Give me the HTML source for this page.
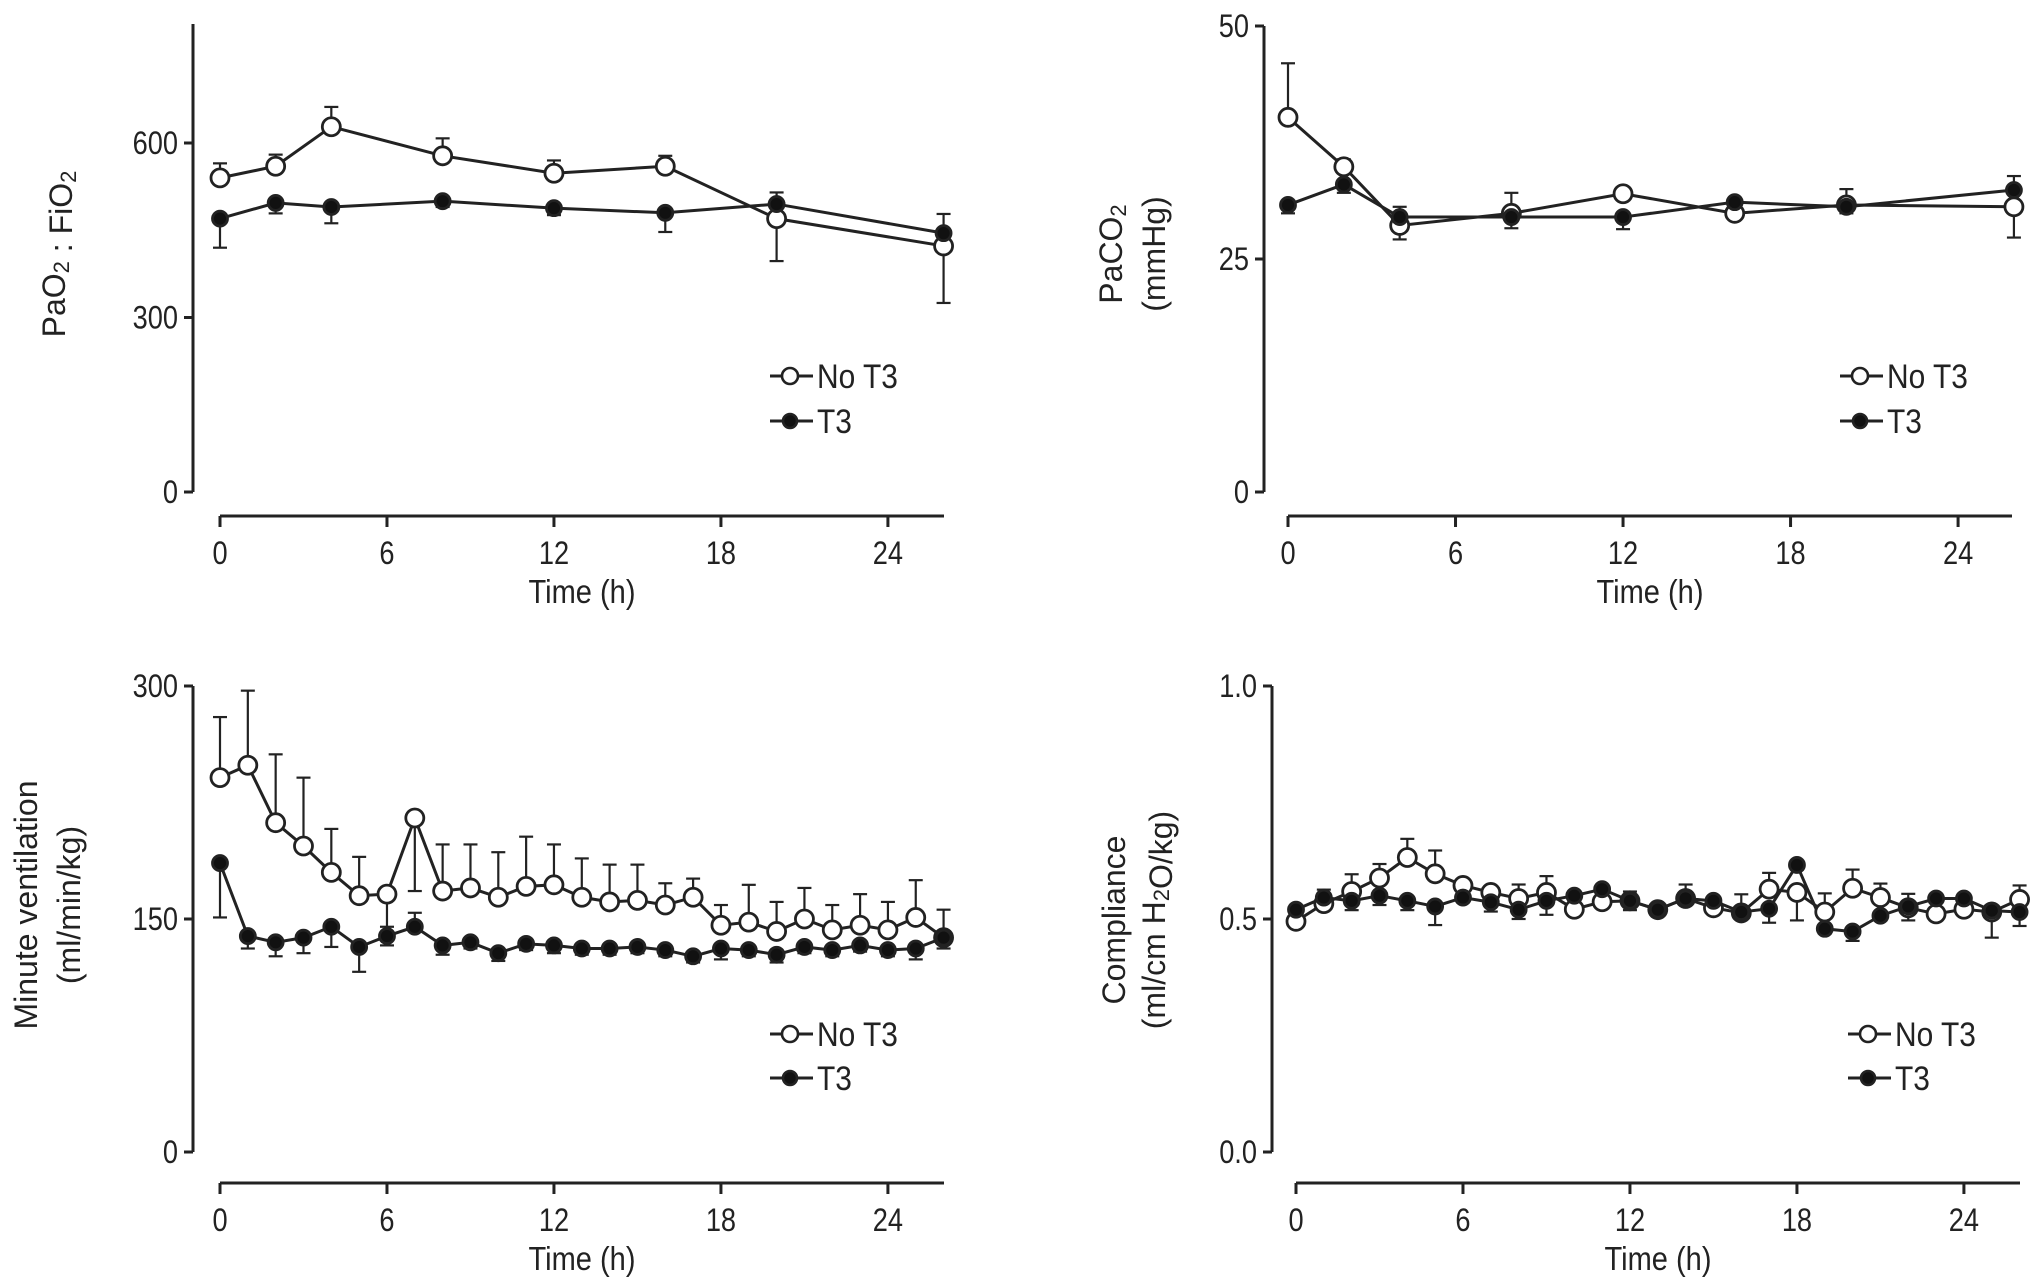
<!DOCTYPE html>
<html><head><meta charset="utf-8"><style>
html,body{margin:0;padding:0;background:#fff;}
svg{display:block;font-family:"Liberation Sans",Arial,sans-serif;}
</style></head><body>
<svg id="fig" width="2032" height="1286" viewBox="0 0 2032 1286" xmlns="http://www.w3.org/2000/svg"></svg>
<script>
// ---- Panel A: PaO2:FiO2 ----
const hoursA = [0,2,4,8,12,16,20,26];
const pfNoT3 = [540,560,628,578,548,560,470,423];
const pfNoT3Err = [25,20,34,30,22,18,73,98];
const pfNoT3Dir = [1,1,1,1,1,1,-1,-1];
const pfT3 = [470,497,490,500,488,480,495,445];
const pfT3Err = [50,18,28,10,12,33,20,33];
const pfT3Dir = [-1,-1,-1,-1,-1,-1,1,1];
const pfTicks = [0,300,600];
// ---- Panel B: PaCO2 ----
const co2NoT3 = [40.2,34.9,28.6,29.9,32.0,29.9,30.8,30.6];
const co2NoT3Err = [5.8,0.8,1.5,2.2,0.5,0.5,1.7,3.3];
const co2NoT3Dir = [1,1,-1,1,1,1,1,-1];
const co2T3 = [30.8,33.0,29.5,29.5,29.5,31.1,30.6,32.4];
const co2T3Err = [0.9,0.9,1.1,1.2,1.3,0.4,0.7,1.5];
const co2T3Dir = [-1,-1,1,-1,-1,1,-1,1];
const co2Ticks = [0,25,50];
// ---- Panel C: Minute ventilation ----
const hoursC = [0,1,2,3,4,5,6,7,8,9,10,11,12,13,14,15,16,17,18,19,20,21,22,23,24,25,26];
const mvNoT3 = [241,249,212,197,180,165,166,215,168,170,164,171,172,164,161,162,159,164,146,148,142,150,143,146,143,151,138];
const mvNoT3Err = [39,48,44,44,28,25,21,47,30,28,29,32,26,25,24,23,14,12,13,24,19,20,16,20,18,24,18];
const mvNoT3Dir = [1,1,1,1,1,1,-1,-1,1,1,1,1,1,1,1,1,1,1,1,1,1,1,1,1,1,1,1];
const mvT3 = [186,139,135,138,145,132,139,145,133,135,128,134,133,131,131,132,130,126,131,130,127,132,130,133,130,131,138];
const mvT3Err = [35,8,9,10,13,16,6,9,6,4,5,4,5,4,4,4,4,4,7,4,5,4,4,4,4,7,7];
const mvT3Dir = [-1,-1,-1,-1,-1,-1,-1,1,-1,-1,-1,-1,-1,-1,-1,-1,-1,-1,-1,-1,-1,-1,-1,-1,-1,-1,-1];
const mvTicks = [0,150,300];
// ---- Panel D: Compliance ----
const cNoT3 = [0.495,0.533,0.559,0.588,0.632,0.597,0.572,0.557,0.544,0.557,0.521,0.537,0.539,0.520,0.544,0.524,0.513,0.564,0.557,0.515,0.566,0.546,0.524,0.511,0.521,0.515,0.542];
const cNoT3Err = [0.01,0.03,0.037,0.03,0.04,0.05,0.01,0.01,0.03,0.035,0.01,0.01,0.02,0.01,0.03,0.01,0.04,0.035,0.06,0.04,0.04,0.03,0.03,0.04,0.01,0.055,0.03];
const cNoT3Dir = [1,1,1,1,1,1,1,1,1,1,1,1,1,1,1,1,1,1,-1,1,1,1,1,1,1,-1,1];
const cT3 = [0.520,0.546,0.539,0.550,0.539,0.527,0.546,0.536,0.520,0.539,0.550,0.564,0.539,0.520,0.544,0.539,0.515,0.522,0.616,0.479,0.473,0.507,0.527,0.544,0.544,0.518,0.515];
const cT3Err = [0.01,0.02,0.02,0.02,0.02,0.04,0.01,0.02,0.02,0.03,0.01,0.01,0.02,0.01,0.01,0.02,0.01,0.03,0.01,0.01,0.02,0.01,0.03,0.03,0.03,0.01,0.03];
const cT3Dir = [-1,-1,-1,-1,-1,-1,-1,-1,-1,-1,-1,-1,-1,-1,-1,-1,-1,-1,-1,-1,-1,-1,-1,-1,-1,-1,-1];
const cTicks = [0,0.5,1];
const cTickLabels = ["0.0","0.5","1.0"];
const xTicks = [0,6,12,18,24];

const NS="http://www.w3.org/2000/svg";
const svg=document.getElementById('fig');
function mk(tag,attrs,parent){const e=document.createElementNS(NS,tag);for(const k in attrs)e.setAttribute(k,attrs[k]);(parent||svg).appendChild(e);return e;}

function panel(cfg){
  const g=mk('g',{});
  
  
  const yS=v=>cfg.y0-(v-cfg.vMin)*(cfg.y0-cfg.yMaxPx)/(cfg.vMax-cfg.vMin);
  const xS=h=>cfg.x0+h*cfg.perH;
  const ya=mk('line',{x1:cfg.yAxisX,y1:cfg.yTop,x2:cfg.yAxisX,y2:cfg.y0,stroke:'#222','stroke-width':3},g);
  
  
  cfg.yTicks.forEach((t,i)=>{
    const y=yS(t);
    mk('line',{x1:cfg.yAxisX-9,y1:y,x2:cfg.yAxisX,y2:y,stroke:'#222','stroke-width':3},g);
    const tx=mk('text',{transform:`translate(${cfg.yAxisX-15},${y+11}) scale(0.85,1)`,'text-anchor':'end','font-size':32,fill:'#222'},g);
    
    
    tx.textContent=cfg.yLabels?cfg.yLabels[i]:String(t);
  });
  const xa=mk('line',{x1:cfg.x0,y1:cfg.xAxisY,x2:cfg.xEnd,y2:cfg.xAxisY,stroke:'#222','stroke-width':3},g);
  
  
  xTicks.forEach(t=>{
    const x=xS(t);
    mk('line',{x1:x,y1:cfg.xAxisY,x2:x,y2:cfg.xAxisY+11,stroke:'#222','stroke-width':3},g);
    const tx=mk('text',{transform:`translate(${x},${cfg.xAxisY+48}) scale(0.85,1)`,'text-anchor':'middle','font-size':32,fill:'#222'},g);
    
    
    tx.textContent=String(t);
  });
  const xt=mk('text',{transform:`translate(${(cfg.x0+cfg.xEnd)/2},${cfg.xAxisY+87}) scale(0.88,1)`,'text-anchor':'middle','font-size':33,fill:'#222'},g);
  
  
  xt.textContent='Time (h)';
  cfg.yTitle.forEach(line=>{
    const t=mk('text',{transform:`translate(${line.x},${cfg.yTitleY}) rotate(-90)`,'text-anchor':'middle','dominant-baseline':'central','font-size':32,fill:'#222'},g);
    
    
    t.innerHTML=line.html;
  });
  const series=[
    {v:cfg.no,e:cfg.noErr,d:cfg.noDir,fill:'#fff',r:9,name:'no-t3'},
    {v:cfg.t3,e:cfg.t3Err,d:cfg.t3Dir,fill:'#111',r:7.5,name:'t3'}
  ];
  series.forEach(s=>{
    const sg=mk('g',{},g);
    
    
    s.v.forEach((v,i)=>{
      const x=xS(cfg.hours[i]);const y1=yS(v);const y2=yS(v+s.d[i]*s.e[i]);
      mk('line',{x1:x,y1:y1,x2:x,y2:y2,stroke:'#222','stroke-width':2.2},sg);
      mk('line',{x1:x-7,y1:y2,x2:x+7,y2:y2,stroke:'#222','stroke-width':2.2},sg);
    });
    const pts=s.v.map((v,i)=>xS(cfg.hours[i])+','+yS(v)).join(' ');
    const pl=mk('polyline',{points:pts,fill:'none',stroke:'#222','stroke-width':3},sg);
    
    
  });
  series.forEach(s=>{
    s.v.forEach((v,i)=>{
      const c=mk('circle',{cx:xS(cfg.hours[i]),cy:yS(v),r:s.r,fill:s.fill,stroke:'#222','stroke-width':2.8},g);
      
      
    });
  });
  const lg=mk('g',{},g);
  
  
  [{y:cfg.legY[0],fill:'#fff',r:8,label:'No T3'},{y:cfg.legY[1],fill:'#111',r:7,label:'T3'}].forEach(L=>{
    const eg=mk('g',{},lg);
    
    
    mk('line',{x1:cfg.legX,y1:L.y,x2:cfg.legX+43,y2:L.y,stroke:'#222','stroke-width':3},eg);
    mk('circle',{cx:cfg.legX+20,cy:L.y,r:L.r,fill:L.fill,stroke:'#222','stroke-width':2.6},eg);
    const t=mk('text',{transform:`translate(${cfg.legX+47},${L.y+12}) scale(0.88,1)`,'font-size':34,fill:'#222'},eg);
    t.textContent=L.label;
  });
}
const sub=s=>`<tspan font-size="22" dy="7">${s}</tspan><tspan dy="-7"></tspan>`;
panel({name:'panel-pao2-fio2',hours:hoursA,no:pfNoT3,noErr:pfNoT3Err,noDir:pfNoT3Dir,t3:pfT3,t3Err:pfT3Err,t3Dir:pfT3Dir,
  yTicks:pfTicks,vMin:0,vMax:600,y0:492,yMaxPx:143,yTop:24,yAxisX:193,x0:220,perH:27.83,xEnd:944,xAxisY:516,
  yTitle:[{x:54,html:'PaO'+sub('2')+' : FiO'+sub('2')}],yTitleY:254,legX:770,legY:[376,421]});
panel({name:'panel-paco2',hours:hoursA,no:co2NoT3,noErr:co2NoT3Err,noDir:co2NoT3Dir,t3:co2T3,t3Err:co2T3Err,t3Dir:co2T3Dir,
  yTicks:co2Ticks,vMin:0,vMax:50,y0:492,yMaxPx:26,yTop:26,yAxisX:1264,x0:1288,perH:27.92,xEnd:2012,xAxisY:516,
  yTitle:[{x:1111,html:'PaCO'+sub('2')},{x:1154,html:'(mmHg)'}],yTitleY:254,legX:1840,legY:[376,421]});
panel({name:'panel-minute-ventilation',hours:hoursC,no:mvNoT3,noErr:mvNoT3Err,noDir:mvNoT3Dir,t3:mvT3,t3Err:mvT3Err,t3Dir:mvT3Dir,
  yTicks:mvTicks,vMin:0,vMax:300,y0:1152,yMaxPx:686,yTop:686,yAxisX:193,x0:220,perH:27.83,xEnd:944,xAxisY:1183,
  yTitle:[{x:26,html:'Minute ventilation'},{x:69,html:'(ml/min/kg)'}],yTitleY:905,legX:770,legY:[1034,1078]});
panel({name:'panel-compliance',hours:hoursC,no:cNoT3,noErr:cNoT3Err,noDir:cNoT3Dir,t3:cT3,t3Err:cT3Err,t3Dir:cT3Dir,
  yTicks:cTicks,yLabels:cTickLabels,vMin:0,vMax:1,y0:1152,yMaxPx:686,yTop:686,yAxisX:1272,x0:1296,perH:27.83,xEnd:2020,xAxisY:1183,
  yTitle:[{x:1114,html:'Compliance'},{x:1154,html:'(ml/cm H'+sub('2')+'O/kg)'}],yTitleY:920,legX:1848,legY:[1034,1078]});
</script>
</body></html>
